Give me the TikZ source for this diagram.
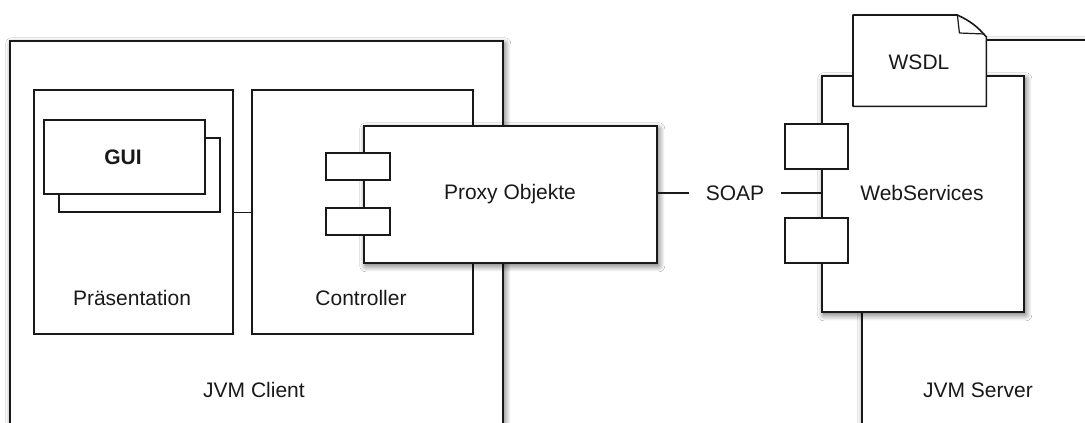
\documentclass[tikz,border=0pt]{standalone}
\usepackage{fontspec}
\setmainfont{Liberation Sans}
\usetikzlibrary{shadows.blur}
\begin{document}
\begin{tikzpicture}[x=1pt,y=-1pt,
  font=\fontsize{21}{25}\selectfont,
  box/.style={draw=black!90, line width=1.6pt, fill=white, anchor=north west, inner sep=0pt},
  shad/.style={blur shadow={shadow xshift=2pt, shadow yshift=-3pt, shadow blur radius=6pt, shadow blur steps=10, shadow opacity=60}},
  lbl/.style={inner sep=0pt, text=black!90},
  conn/.style={draw=black!90, line width=1.6pt}]
\useasboundingbox (0,0) rectangle (1085,423);
\fill[white] (0,0) rectangle (1085,423);

% ---- right group ----
\node[box, shad, minimum width=240pt, minimum height=384pt] (server) at (861,39) {};
\node[lbl] (serverlbl) at (978,390) {JVM Server};
\node[box, shad, minimum width=202pt, minimum height=236pt] (ws) at (821,75) {};
\node[lbl] (wslbl) at (922,193) {WebServices};
\node[anchor=north west, inner sep=0pt, minimum width=133pt, minimum height=91pt] (wsdl) at (853,15) {};
\filldraw[draw=black!90, fill=white, line width=1.6pt, line join=round]
  (wsdl.south west) -- (wsdl.north west) -- ([xshift=-29pt]wsdl.north east)
  to[bend left=12] ([yshift=-22pt]wsdl.north east) -- (wsdl.south east) -- cycle;
\draw[draw=black!90, line width=1.2pt, line join=round]
  ([xshift=-29pt]wsdl.north east) -- ([xshift=-27pt,yshift=-18pt]wsdl.north east) -- ([xshift=-2pt,yshift=-19pt]wsdl.north east);
\node[lbl] (wsdllbl) at (919,62) {WSDL};
\node[box, minimum width=63pt, minimum height=45pt] (wsp1) at (784,123) {};
\node[box, minimum width=63pt, minimum height=45pt] (wsp2) at (784,217) {};

% ---- left group ----
\node[box, shad, minimum width=493pt, minimum height=383pt] (client) at (9,40) {};
\node[lbl] (clientlbl) at (254,390) {JVM Client};
\node[box, minimum width=199pt, minimum height=244pt] (pres) at (33,89) {};
\node[lbl] (preslbl) at (132,298) {Präsentation};
\node[box, minimum width=221pt, minimum height=244pt] (ctrl) at (251,89) {};
\node[lbl] (ctrllbl) at (361,298) {Controller};
\node[box, minimum width=161pt, minimum height=74pt] (guiback) at (58,137) {};
\node[box, minimum width=161pt, minimum height=74pt] (gui) at (43,119) {};
\node[lbl, font=\fontsize{21}{25}\selectfont\bfseries] (guilbl) at (123,157) {GUI};
\node[box, shad, minimum width=293pt, minimum height=137pt] (proxy) at (363,125) {};
\node[lbl] (proxylbl) at (510,194) {Proxy Objekte};
\node[box, minimum width=64pt, minimum height=27pt] (pp1) at (325,152) {};
\node[box, minimum width=64pt, minimum height=27pt] (pp2) at (325,207) {};

% ---- connectors ----
\draw[conn] (pres.east |- guiback.south) -- (ctrl.west |- guiback.south);
\node[lbl, inner xsep=17pt] (soap) at (735,193) {SOAP};
\draw[conn] (proxy.east |- soap.west) -- (soap.west);
\draw[conn] (soap.east) -- (ws.west |- soap.east);
\end{tikzpicture}
\end{document}
